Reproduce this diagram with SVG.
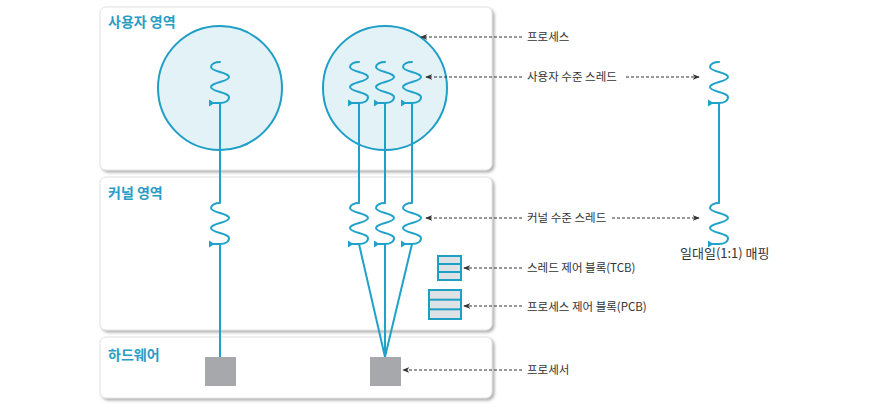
<svg xmlns="http://www.w3.org/2000/svg" xmlns:xlink="http://www.w3.org/1999/xlink" width="872" height="410" viewBox="0 0 872 410">
<style>
.panel{fill:#ffffff;stroke:#e2e2e2;stroke-width:1;filter:url(#sh)}
.plabel{font-family:"Noto Sans CJK KR","Noto Sans",sans-serif;font-size:14px;font-weight:bold;fill:#2a9dc4}
.lbl{font-family:"Noto Sans CJK KR","Noto Sans",sans-serif;font-size:11.5px;fill:#333333}
.proc{fill:#e3f2f7;stroke:#1f9ec6;stroke-width:2}
.th{fill:none;stroke:#1ea2c9;stroke-width:2;stroke-linecap:round}
.thh{fill:#1ea2c9}
.ln{stroke:#1ea2c9;stroke-width:2;fill:none}
.dash{stroke:#333333;stroke-width:1;stroke-dasharray:3 2;fill:none}
.cpu{fill:#a7a8ab}
.blk{fill:#dde2e6;stroke:#1f9ec6;stroke-width:2}
</style>
<defs>
<filter id="sh" x="-5%" y="-5%" width="115%" height="120%">
<feDropShadow dx="2" dy="2" stdDeviation="1.5" flood-color="#777777" flood-opacity="0.6"/>
</filter>
<marker id="ah" viewBox="0 0 8 8" refX="7" refY="4" markerWidth="7" markerHeight="7" markerUnits="userSpaceOnUse" orient="auto">
<path d="M0,0.8 L8,4 L0,7.2 L2,4 Z" fill="#333333"/>
</marker>
<g id="sq">
<path class="th" d="M0 0 C-5 0,-9 2,-9 5 C-9 10,9 10,9 15 C9 20,-9 20,-9 25 C-9 30,9 30,9 35 C9 39,5 41,0 41 L-8 41"/>
<polygon class="thh" points="-11,37.5 -5.5,41 -11,44.5"/>
</g>
</defs>

<g id="user-space">
<rect class="panel" x="100" y="7" width="392" height="163" rx="6"/>
<text class="plabel" x="108" y="27">사용자 영역</text>
</g>
<g id="kernel-space">
<rect class="panel" x="100" y="177" width="392" height="153" rx="6"/>
<text class="plabel" x="108" y="198">커널 영역</text>
</g>
<g id="hardware">
<rect class="panel" x="100" y="337" width="392" height="61" rx="6"/>
<text class="plabel" x="108" y="360">하드웨어</text>
</g>

<g id="process1"><circle class="proc" cx="220" cy="88" r="62"/></g>
<g id="process2"><circle class="proc" cx="385" cy="88" r="62"/></g>

<g id="connectors">
<line class="ln" x1="220" y1="103" x2="220" y2="203"/>
<line class="ln" x1="220" y1="244" x2="220" y2="357"/>
<line class="ln" x1="359" y1="103" x2="359" y2="203"/>
<line class="ln" x1="385" y1="103" x2="385" y2="203"/>
<line class="ln" x1="412" y1="103" x2="412" y2="203"/>
<line class="ln" x1="359" y1="244" x2="385" y2="357"/>
<line class="ln" x1="385" y1="244" x2="385" y2="357"/>
<line class="ln" x1="412" y1="244" x2="385" y2="357"/>
<line class="ln" x1="719" y1="103" x2="719" y2="203"/>
<path class="dash" marker-end="url(#ah)" d="M522 37 H421"/>
<path class="dash" marker-end="url(#ah)" d="M522 77 H426"/>
<path class="dash" marker-end="url(#ah)" d="M626 77 H699"/>
<path class="dash" marker-end="url(#ah)" d="M522 218 H426"/>
<path class="dash" marker-end="url(#ah)" d="M612 218 H699"/>
<path class="dash" marker-end="url(#ah)" d="M522 268 H464"/>
<path class="dash" marker-end="url(#ah)" d="M522 306 H464"/>
<path class="dash" marker-end="url(#ah)" d="M522 370 H403"/>
</g>

<g id="user-threads">
<use href="#sq" x="220" y="62"/>
<use href="#sq" x="359" y="62"/>
<use href="#sq" x="385" y="62"/>
<use href="#sq" x="412" y="62"/>
</g>
<g id="kernel-threads">
<use href="#sq" x="220" y="203"/>
<use href="#sq" x="359" y="203"/>
<use href="#sq" x="385" y="203"/>
<use href="#sq" x="412" y="203"/>
</g>
<g id="mapping">
<use href="#sq" x="719" y="62"/>
<use href="#sq" x="719" y="203"/>
<text class="lbl" x="680" y="258" style="font-size:13px">일대일(1:1) 매핑</text>
</g>

<g id="tcb">
<rect class="blk" x="438" y="256" width="23" height="24"/>
<line class="blk" x1="438" y1="264" x2="461" y2="264"/>
<line class="blk" x1="438" y1="272" x2="461" y2="272"/>
</g>
<g id="pcb">
<rect class="blk" x="429" y="290" width="32" height="29"/>
<line class="blk" x1="429" y1="299.7" x2="461" y2="299.7"/>
<line class="blk" x1="429" y1="309.3" x2="461" y2="309.3"/>
</g>

<g id="cpu1"><rect class="cpu" x="205" y="357" width="31" height="29"/></g>
<g id="cpu2"><rect class="cpu" x="370" y="357" width="31" height="29"/></g>

<g id="labels">
<text class="lbl" x="527" y="41">프로세스</text>
<text class="lbl" x="527" y="81">사용자 수준 스레드</text>
<text class="lbl" x="527" y="222">커널 수준 스레드</text>
<text class="lbl" x="527" y="272">스레드 제어 블록(TCB)</text>
<text class="lbl" x="527" y="311">프로세스 제어 블록(PCB)</text>
<text class="lbl" x="527" y="374">프로세서</text>
</g>
</svg>
